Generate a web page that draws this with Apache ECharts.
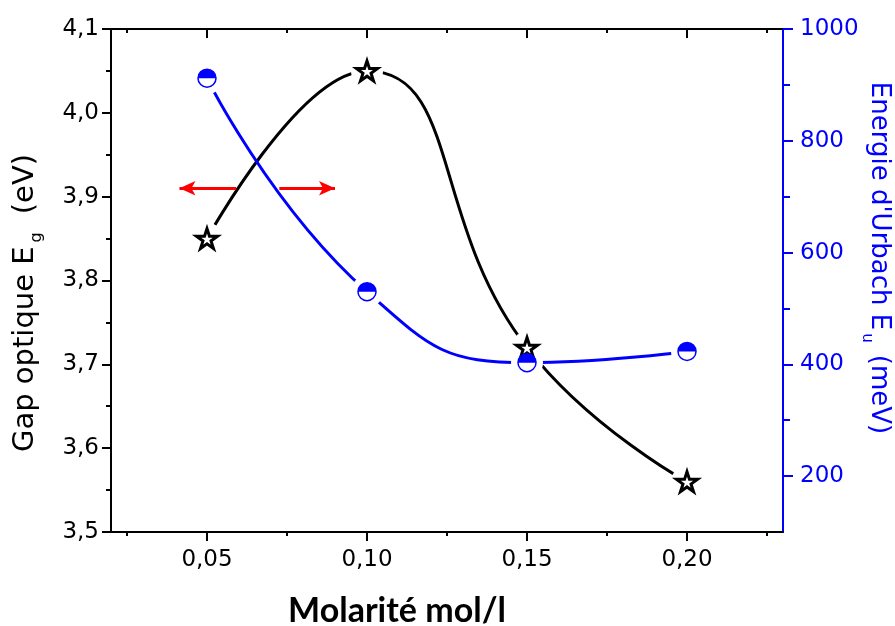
<!DOCTYPE html>
<html>
<head>
<meta charset="utf-8">
<title>Gap optique et énergie d'Urbach</title>
<script src="https://cdn.jsdelivr.net/npm/echarts@6/dist/echarts.min.js"></script>
<style>
  html, body { margin: 0; padding: 0; background: #fff; }
  #chart { width: 895px; height: 626px; }
</style>
</head>
<body>
<div id="chart"></div>
<script>
// Molarity of the solution (mol/l)
const molarity = [0.05, 0.10, 0.15, 0.20];
// Optical gap Eg (eV), left axis
const gapEg = [3.85, 4.05, 3.72, 3.56];
// Urbach energy Eu (meV), right axis
const urbachEu = [912, 530, 403, 423];

// Tick positions
const xMajorTicks = [0.05, 0.10, 0.15, 0.20];
const xMinorTicks = [0.025, 0.075, 0.125, 0.175, 0.225];
const rightMajorTicks = [200, 400, 600, 800, 1000];
const rightMinorTicks = [300, 500, 700, 900];

// Arrows telling which axis each curve belongs to: [fromX, toX] at level arrowY
const arrowY = 3.91;
const arrowToLeft = [0.0591, 0.0414];
const arrowToRight = [0.0726, 0.0900];

const BLUE = '#0000ff';
const FONT = '"DejaVu Sans", Verdana, sans-serif';

const starPath = 'path://M0,-10L2.245,-3.09L9.511,-3.09L3.633,1.18L5.878,8.09L0,3.82L-5.878,8.09L-3.633,1.18L-9.511,-3.09L-2.245,-3.09Z';
const halfDiskPath = 'path://M0,10A10,10,0,0,1,20,10Z';

const gapPts = molarity.map((m, i) => [m, gapEg[i]]);
const urbPts = molarity.map((m, i) => [m, urbachEu[i]]);

const comma = (v, d) => v.toFixed(d).replace('.', ',');

const chart = echarts.init(document.getElementById('chart'), null, { renderer: 'canvas' });

const xBase = { type: 'value', min: 0.02, max: 0.23, splitLine: { show: false }, gridIndex: 0 };
const yLeftBase = { type: 'value', min: 3.5, max: 4.1, interval: 0.1, splitLine: { show: false } };
const yRightBase = { type: 'value', min: 100, max: 1000, splitLine: { show: false } };

chart.setOption({
  backgroundColor: '#fff',
  animation: false,
  grid: { left: 111, right: 112, top: 29, bottom: 94, outerBoundsMode: 'none', containLabel: false },
  xAxis: [
    Object.assign({}, xBase, {
      position: 'bottom',
      axisLine: { show: true, lineStyle: { color: '#000', width: 2 } },
      axisTick: { show: true, inside: false, length: 9, customValues: xMajorTicks, lineStyle: { color: '#000', width: 2 } },
      axisLabel: { show: true, customValues: xMajorTicks, margin: 17, fontSize: 23, fontFamily: FONT, color: '#000',
        formatter: v => comma(v, 2) }
    }),
    Object.assign({}, xBase, {
      position: 'bottom',
      axisLine: { show: false },
      axisTick: { show: true, inside: false, length: 4, customValues: xMinorTicks, lineStyle: { color: '#000', width: 2 } },
      axisLabel: { show: false }
    }),
    Object.assign({}, xBase, {
      position: 'top',
      axisLine: { show: true, lineStyle: { color: '#000', width: 2 } },
      axisTick: { show: true, inside: true, length: 9, customValues: xMajorTicks, lineStyle: { color: '#000', width: 2 } },
      axisLabel: { show: false }
    }),
    Object.assign({}, xBase, {
      position: 'top',
      axisLine: { show: false },
      axisTick: { show: true, inside: true, length: 4, customValues: xMinorTicks, lineStyle: { color: '#000', width: 2 } },
      axisLabel: { show: false }
    })
  ],
  yAxis: [
    Object.assign({}, yLeftBase, {
      position: 'left',
      axisLine: { show: true, lineStyle: { color: '#000', width: 2 } },
      axisTick: { show: true, inside: false, length: 9, lineStyle: { color: '#000', width: 2 } },
      minorTick: { show: true, splitNumber: 2, length: 5, lineStyle: { color: '#000', width: 2 } },
      axisLabel: { show: true, margin: 12, fontSize: 23, fontFamily: FONT, color: '#000',
        formatter: v => comma(v, 1) }
    }),
    Object.assign({}, yRightBase, {
      position: 'right',
      axisLine: { show: true, lineStyle: { color: BLUE, width: 2 } },
      axisTick: { show: true, inside: false, length: 10, customValues: rightMajorTicks, lineStyle: { color: BLUE, width: 2 } },
      axisLabel: { show: true, customValues: rightMajorTicks, margin: 17, fontSize: 23, fontFamily: FONT, color: BLUE,
        formatter: v => String(Math.round(v)) }
    }),
    Object.assign({}, yRightBase, {
      position: 'right',
      axisLine: { show: false },
      axisTick: { show: true, inside: false, length: 7, customValues: rightMinorTicks, lineStyle: { color: BLUE, width: 2 } },
      axisLabel: { show: false }
    })
  ],
  graphic: [
    {
      type: 'text', x: 25, y: 303, rotation: Math.PI / 2,
      style: {
        text: '{t|Gap optique E}{s|g}{t|(eV)}',
        align: 'center', verticalAlign: 'middle',
        rich: {
          t: { fontSize: 29, fontFamily: FONT, fill: '#000', lineHeight: 40, verticalAlign: 'middle' },
          s: { fontSize: 16, fontFamily: FONT, fill: '#000', lineHeight: 15, verticalAlign: 'bottom', padding: [0, 18, 0, 4] }
        }
      }
    },
    {
      type: 'text', x: 879, y: 258, rotation: -Math.PI / 2,
      style: {
        text: "{t|Energie d'Urbach E}{s|u}{t|(meV)}",
        align: 'center', verticalAlign: 'middle',
        rich: {
          t: { fontSize: 26, fontFamily: FONT, fill: BLUE, lineHeight: 40, verticalAlign: 'middle' },
          s: { fontSize: 15, fontFamily: FONT, fill: BLUE, lineHeight: 15, verticalAlign: 'bottom', padding: [0, 12, 0, 3] }
        }
      }
    },
    {
      type: 'text', x: 397, y: 611,
      style: {
        text: 'Molarité mol/l',
        align: 'center', verticalAlign: 'middle',
        fontSize: 34, fontWeight: 'bold', fontFamily: 'Lato, "Open Sans", sans-serif', fill: '#000'
      }
    }
  ],
  series: [
    {
      name: 'Eg curve', type: 'line', xAxisIndex: 0, yAxisIndex: 0, data: gapPts,
      smooth: true, showSymbol: false, z: 2, silent: true,
      lineStyle: { color: '#000', width: 3 }
    },
    {
      name: 'Eu curve', type: 'line', xAxisIndex: 0, yAxisIndex: 1, data: urbPts,
      smooth: true, showSymbol: false, z: 2, silent: true,
      lineStyle: { color: BLUE, width: 3 }
    },
    {
      name: 'arrows', type: 'line', xAxisIndex: 0, yAxisIndex: 0, data: [], z: 2,
      markLine: {
        silent: true, animation: false,
        symbol: ['none', 'arrow'], symbolSize: [11, 16],
        label: { show: false },
        lineStyle: { color: '#ff0000', width: 3, type: 'solid' },
        data: [
          [{ coord: [arrowToLeft[0], arrowY] }, { coord: [arrowToLeft[1], arrowY] }],
          [{ coord: [arrowToRight[0], arrowY] }, { coord: [arrowToRight[1], arrowY] }]
        ]
      }
    },
    // white halos that open small gaps in the curves around each marker
    {
      name: 'Eg halo', type: 'scatter', xAxisIndex: 0, yAxisIndex: 0, data: gapPts, z: 3, silent: true,
      symbol: 'circle', symbolSize: 32, itemStyle: { color: '#fff', opacity: 1 }
    },
    {
      name: 'Eu halo', type: 'scatter', xAxisIndex: 0, yAxisIndex: 1, data: urbPts, z: 3, silent: true,
      symbol: 'circle', symbolSize: 32, itemStyle: { color: '#fff', opacity: 1 }
    },
    {
      name: 'Eg', type: 'scatter', xAxisIndex: 0, yAxisIndex: 0, data: gapPts, z: 4, silent: true,
      symbol: starPath, symbolSize: 21, symbolKeepAspect: true,
      itemStyle: { color: '#fff', borderColor: '#000', borderWidth: 3, opacity: 1 }
    },
    {
      name: 'Eu', type: 'scatter', xAxisIndex: 0, yAxisIndex: 1, data: urbPts, z: 5, silent: true,
      symbol: 'circle', symbolSize: 18,
      itemStyle: { color: '#fff', borderColor: BLUE, borderWidth: 1.5, opacity: 1 }
    },
    {
      name: 'Eu top', type: 'scatter', xAxisIndex: 0, yAxisIndex: 1, data: urbPts, z: 6, silent: true,
      symbol: halfDiskPath, symbolSize: [18, 9], symbolOffset: [0, -4.5],
      itemStyle: { color: BLUE, opacity: 1 }
    }
  ]
});
</script>
</body>
</html>
